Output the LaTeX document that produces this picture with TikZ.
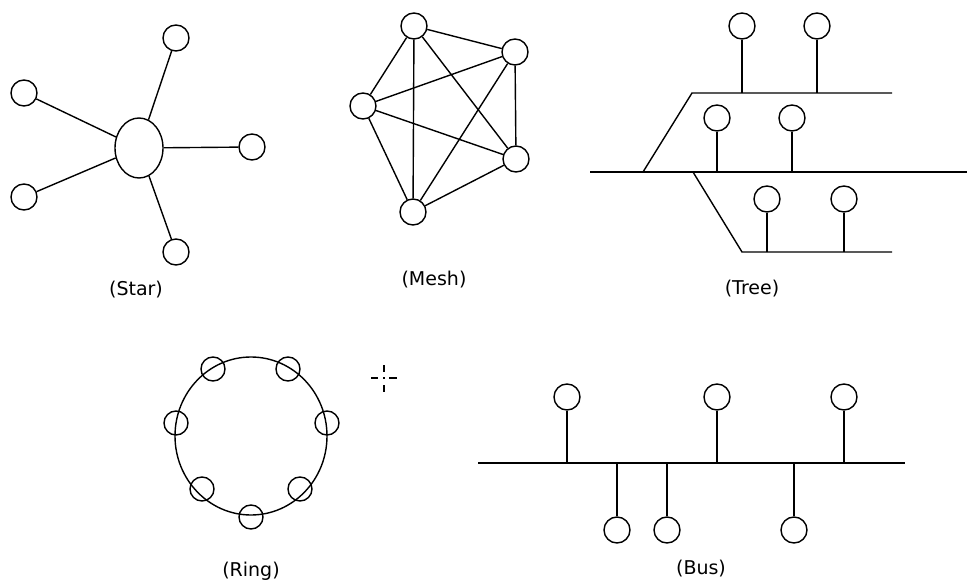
\documentclass[tikz,border=0pt]{standalone}
\usepackage{fontspec}
\setmainfont{DejaVu Sans}
\usetikzlibrary{shapes.geometric}
\begin{document}
\begin{tikzpicture}[x=1pt,y=-1pt,line width=1.4pt,
  station/.style={circle,draw,minimum size=26pt,inner sep=0pt},
  ringstation/.style={circle,draw,minimum size=24pt,inner sep=0pt},
  lbl/.style={font=\fontsize{19}{22}\selectfont,inner sep=0pt},
  cursorline/.style={line width=1.5pt}]
\useasboundingbox (0,0) rectangle (967,583);

% ---------- Star ----------
\node[ellipse,draw,minimum width=48pt,minimum height=60pt,inner sep=0pt] (hub) at (139,148) {};
\node[station] (s1) at (176,38) {};
\node[station] (s2) at (24,93) {};
\node[station] (s3) at (252,147) {};
\node[station] (s4) at (24,197) {};
\node[station] (s5) at (176,252) {};
\foreach \s in {s1,s2,s3,s4,s5} \draw (hub) -- (\s);
\node[lbl] (lstar) at (136,290) {(Star)};

% ---------- Mesh ----------
\node[station] (m1) at (414,26) {};
\node[station] (m2) at (515,52) {};
\node[station] (m3) at (363,106) {};
\node[station] (m4) at (516,159) {};
\node[station] (m5) at (413,212) {};
\foreach \a/\b in {m1/m2,m1/m3,m1/m4,m1/m5,m2/m3,m2/m4,m2/m5,m3/m4,m3/m5,m4/m5}
  \draw (\a) -- (\b);
\node[lbl] (lmesh) at (434,280) {(Mesh)};

% ---------- Tree ----------
\coordinate (ta) at (590,172);
\coordinate (tb) at (967,172);
\coordinate (tc) at (643,172);
\coordinate (td) at (692,93);
\coordinate (te) at (892,93);
\coordinate (tf) at (693,172);
\coordinate (tg) at (742,252);
\coordinate (th) at (892,252);
\draw (ta) -- (tb);
\draw (tc) -- (td) -- (te);
\draw (tf) -- (tg) -- (th);
\node[station] (t1) at (742,26) {};
\node[station] (t2) at (817,26) {};
\node[station] (t3) at (717,118) {};
\node[station] (t4) at (792,118) {};
\node[station] (t5) at (767,199) {};
\node[station] (t6) at (844,199) {};
\draw (t1) -- (t1 |- td);
\draw (t2) -- (t2 |- td);
\draw (t3) -- (t3 |- ta);
\draw (t4) -- (t4 |- ta);
\draw (t5) -- (t5 |- tg);
\draw (t6) -- (t6 |- tg);
\node[lbl] (ltree) at (752,289) {(Tree)};

% ---------- Ring ----------
\node[ellipse,draw,minimum width=152pt,minimum height=158pt,inner sep=0pt] (ring) at (251,436) {};
\node[ringstation] (r1) at (213,369) {};
\node[ringstation] (r2) at (288,369) {};
\node[ringstation] (r3) at (176,423) {};
\node[ringstation] (r4) at (327,423) {};
\node[ringstation] (r5) at (202,489) {};
\node[ringstation] (r6) at (300,489) {};
\node[ringstation] (r7) at (251,517) {};
\node[lbl] (lring) at (251,571) {(Ring)};

% ---------- cursor mark ----------
\draw[cursorline] (371,378) -- (378,378);
\draw[cursorline] (389,378) -- (397,378);
\draw[cursorline] (384,365) -- (384,372);
\draw[cursorline] (384,385) -- (384,392);
\fill (383.3,377.3) rectangle (384.7,378.7);

% ---------- Bus ----------
\coordinate (ba) at (478,463);
\coordinate (bb) at (905,463);
\draw (ba) -- (bb);
\node[station] (b1) at (567,397) {};
\node[station] (b2) at (717,397) {};
\node[station] (b3) at (844,397) {};
\node[station] (b4) at (617,530) {};
\node[station] (b5) at (667,530) {};
\node[station] (b6) at (794,530) {};
\foreach \b in {b1,b2,b3,b4,b5,b6} \draw (\b) -- (\b |- ba);
\node[lbl] (lbus) at (701,569) {(Bus)};
\end{tikzpicture}
\end{document}
